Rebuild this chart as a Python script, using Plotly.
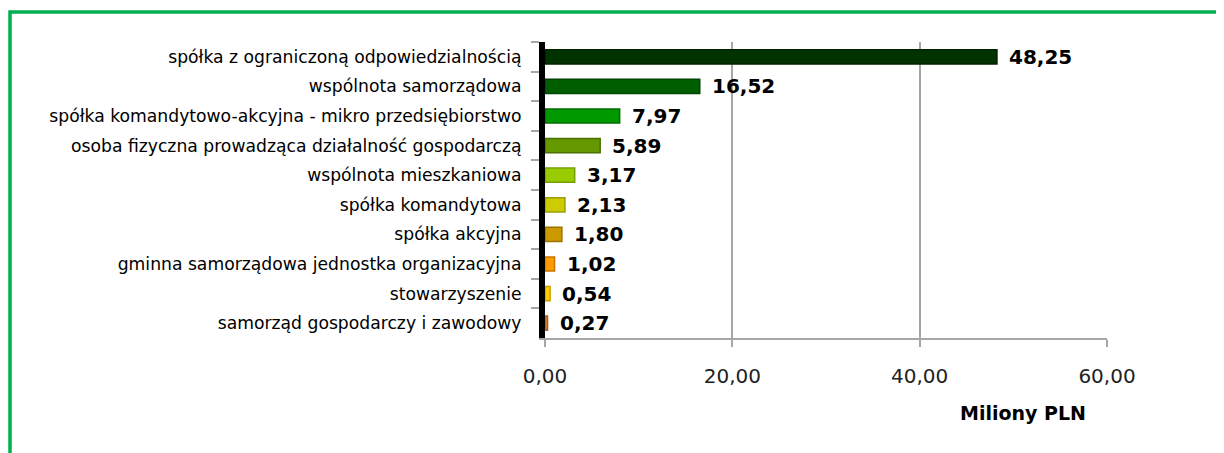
import plotly.graph_objects as go

categories = [
    "spółka z ograniczoną odpowiedzialnością",
    "wspólnota samorządowa",
    "spółka komandytowo-akcyjna - mikro przedsiębiorstwo",
    "osoba fizyczna prowadząca działalność gospodarczą",
    "wspólnota mieszkaniowa",
    "spółka komandytowa",
    "spółka akcyjna",
    "gminna samorządowa jednostka organizacyjna",
    "stowarzyszenie",
    "samorząd gospodarczy i zawodowy",
]
values = [48.25, 16.52, 7.97, 5.89, 3.17, 2.13, 1.80, 1.02, 0.54, 0.27]
colors = ["#003300", "#005E00", "#009900", "#669900", "#99CC00",
          "#CCCC00", "#CC9900", "#FF9900", "#FFCC00", "#E0802E"]
edge_colors = ["#002200", "#004400", "#006E00", "#4A7000", "#779E00",
               "#9E9E00", "#9A7300", "#C77700", "#CC9E00", "#A85E20"]
x_ticks = [0, 20, 40, 60]
x_title = "Miliony PLN"

# page body margin offset (browser default 8px)
OFF = 8
W, H = 1224 - OFF, 453 - OFF
# screen pixel positions of plot area
SX0, SX1, SY0, SY1 = 545, 1107, 42, 338
ML, MR = SX0 - OFF, W - (SX1 - OFF)
MT, MB = SY0 - OFF, H - (SY1 - OFF)
pw, ph = SX1 - SX0, SY1 - SY0

font_family = "DejaVu Sans, Verdana, sans-serif"


def px_x(p):
    return (p - SX0) / pw


def px_y(p):
    return 1 - (p - SY0) / ph


fig = go.Figure()
fig.add_trace(go.Bar(
    y=categories, x=values, orientation="h",
    marker=dict(color=colors, line=dict(color=edge_colors, width=1.5)),
    width=0.48,
    hoverinfo="skip",
))

annotations = []
for c, v in zip(categories, values):
    annotations.append(dict(
        x=v, y=c, xref="x", yref="y", text=f"{v:.2f}".replace(".", ","),
        showarrow=False, xanchor="left", yanchor="middle", xshift=10,
        font=dict(family=font_family, size=20, color="#000000", weight="bold"),
    ))
annotations.append(dict(
    x=px_x(1023), y=px_y(413), xref="paper", yref="paper",
    text="<b>" + x_title + "</b>", showarrow=False,
    xanchor="center", yanchor="middle",
    font=dict(family=font_family, size=19, color="#000000"),
))

frame = dict(type="path", xref="paper", yref="paper",
             path=f"M {px_x(10)} {px_y(470)} L {px_x(10)} {px_y(12)} L {px_x(1240)} {px_y(12)}",
             line=dict(color="#00B050", width=3.5))

fig.update_layout(
    width=W, height=H,
    margin=dict(l=ML, r=MR, t=MT, b=MB, autoexpand=False),
    paper_bgcolor="white", plot_bgcolor="white",
    separators=", ",
    showlegend=False,
    annotations=annotations,
    shapes=[frame],
    font=dict(family=font_family, color="#000000"),
    xaxis=dict(
        range=[0, 60], tickvals=x_ticks, tickformat=".2f",
        showgrid=True, gridcolor="#A6A6A6", gridwidth=2,
        zeroline=False, showline=True, linecolor="#A6A6A6", linewidth=2,
        ticks="outside", ticklen=7, tickcolor="#A6A6A6", tickwidth=2,
        tickfont=dict(size=20, color="#222222"), ticklabelstandoff=12,
        fixedrange=True,
    ),
    yaxis=dict(
        autorange="reversed", type="category",
        showline=True, linecolor="#000000", linewidth=6,
        ticks="outside", tickson="boundaries", ticklen=8, tickcolor="#A6A6A6", tickwidth=2,
        tickfont=dict(size=17.2, color="#000000"), ticklabelstandoff=14,
        showgrid=False, fixedrange=True,
    ),
)

fig.write_html("out.html")
